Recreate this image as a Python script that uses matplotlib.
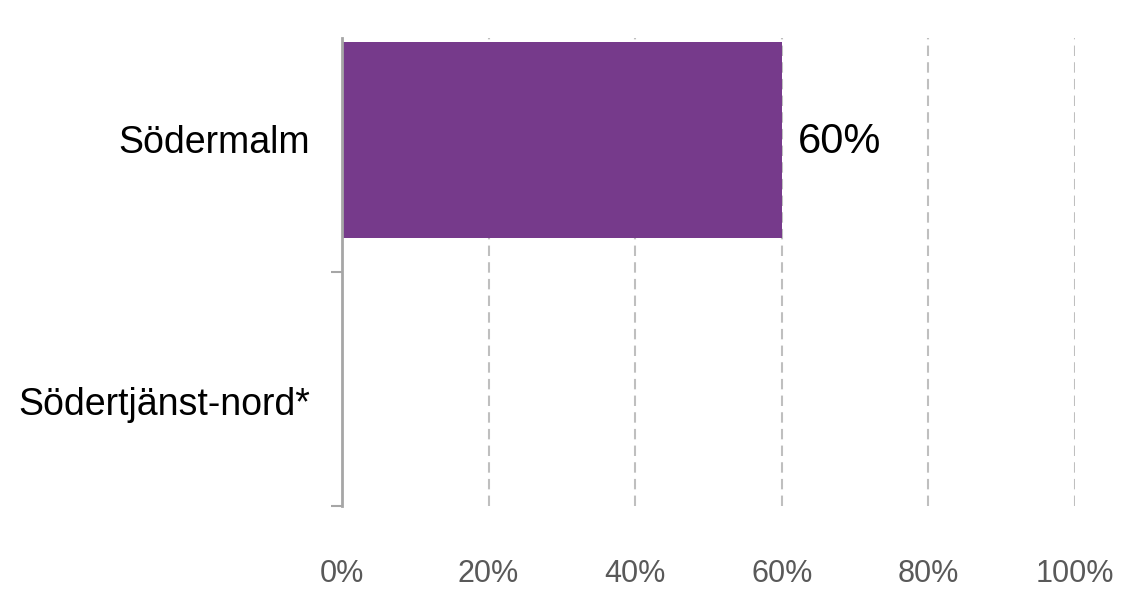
import matplotlib
matplotlib.use("Agg")
import matplotlib.pyplot as plt
from matplotlib.ticker import FixedLocator

plt.rcParams['font.family'] = ['Liberation Sans', 'DejaVu Sans']

# data
categories = ['Södermalm', 'Södertjänst-nord*']
values = [0.60, None]          # no value for Södertjänst-nord
xticks = [0, 0.2, 0.4, 0.6, 0.8, 1.0]
xtick_labels = ['0%', '20%', '40%', '60%', '80%', '100%']

bar_color = '#763A8B'
grid_color = '#BFBFBF'
axis_color = '#A6A6A6'

fig = plt.figure(figsize=(11.35, 5.92), dpi=100)
ax = fig.add_axes([0.3013, 0.1453, 0.6458, 0.7905])

# category bands 0..1 and 1..2, top to bottom
bar_pos = [0.436, 1.436]
label_pos = [0.432, 1.551]
bar_h = 0.838

for pos, v in zip(bar_pos, values):
    if v is None:
        continue
    ax.barh(pos, v, height=bar_h, color=bar_color, zorder=3)
    ax.text(v + 0.022, pos + 0.01, '{:.0f}%'.format(v * 100), va='center', ha='left',
            fontsize=30, color='black')

ax.set_xlim(0, 1.0)
ax.set_ylim(2, 0)

ax.set_xticks(xticks)
ax.set_xticklabels(xtick_labels, fontsize=22, color='#595959')
ax.tick_params(axis='x', length=0, pad=38)
ax.xaxis.grid(True, color=grid_color, linestyle=(0, (5, 3)), linewidth=1.5, zorder=0)

ax.set_yticks(label_pos)
ax.set_yticklabels(categories, fontsize=27, color='black')
ax.tick_params(axis='y', which='major', length=0, pad=23)
ax.yaxis.set_minor_locator(FixedLocator([1, 2]))
ax.tick_params(axis='y', which='minor', length=8, width=1.5, color=axis_color, direction='out')

for s in ['top', 'right', 'bottom']:
    ax.spines[s].set_visible(False)
ax.spines['left'].set_color(axis_color)
ax.spines['left'].set_linewidth(2)
ax.spines['left'].set_zorder(4)

fig.savefig('out.png', dpi=100)
